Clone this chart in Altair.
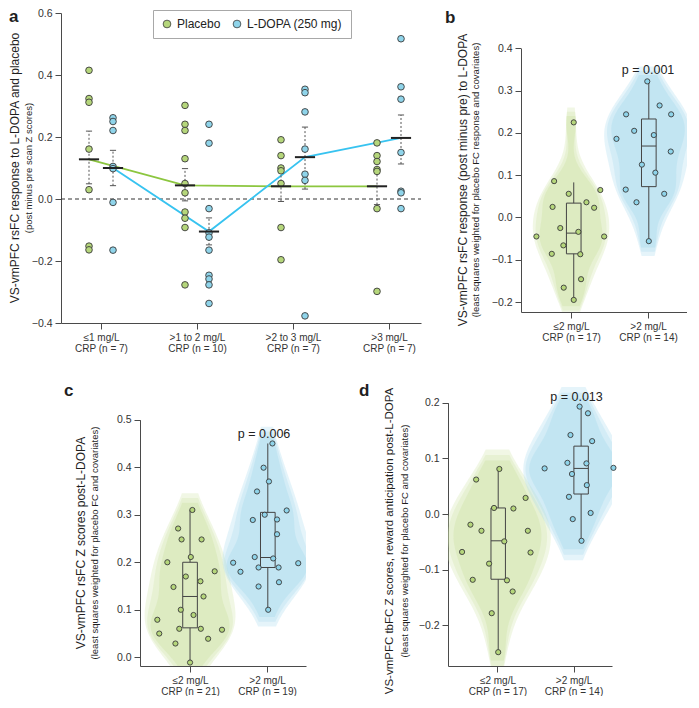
import altair as alt
import pandas as pd

FONT = "Liberation Sans"
GREEN_PT = "#b5d67b"
BLUE_PT = "#8fd4ea"
GREEN_LINE = "#8cc63f"
BLUE_LINE = "#37c3f0"
GREEN_VIO = "#cfe3a8"
BLUE_VIO = "#aadcee"
EDGE = "#3a3a3a"
AXIS = "#4a4a4a"

# ---------------- Panel a data ----------------
conditions = ["Placebo", "L-DOPA (250 mg)"]
a_labels = ["≤1 mg/L|CRP (n = 7)", ">1 to 2 mg/L|CRP (n = 10)",
            ">2 to 3 mg/L|CRP (n = 7)", ">3 mg/L|CRP (n = 7)"]
a_placebo = [
    [0.415, 0.324, 0.312, 0.161, 0.03, -0.152, -0.164],
    [0.302, 0.241, 0.221, 0.13, 0.05, 0.02, -0.042, -0.062, -0.092, -0.277],
    [0.191, 0.14, 0.1, 0.091, 0.05, -0.092, -0.196],
    [0.181, 0.14, 0.121, 0.095, 0.089, -0.031, -0.298],
]
a_ldopa = [
    [0.262, 0.25, 0.221, 0.105, 0.098, -0.011, -0.165],
    [0.241, 0.18, -0.031, -0.109, -0.123, -0.165, -0.246, -0.258, -0.277, -0.337],
    [0.354, 0.343, 0.281, 0.161, 0.08, 0.06, -0.377],
    [0.517, 0.362, 0.322, 0.15, 0.025, 0.02, -0.031],
]
a_placebo_mean = [0.128, 0.044, 0.041, 0.041]
a_placebo_lo = [0.049, -0.006, -0.008, -0.018]
a_placebo_hi = [0.219, 0.098, 0.094, 0.093]
a_ldopa_mean = [0.100, -0.105, 0.135, 0.197]
a_ldopa_lo = [0.043, -0.148, 0.032, 0.113]
a_ldopa_hi = [0.157, -0.061, 0.232, 0.271]

# ---------------- Panel b data ----------------
b_labels = ["≤2 mg/L|CRP (n = 17)", ">2 mg/L|CRP (n = 14)"]
b_low = [0.225, 0.086, 0.056, 0.065, 0.025, 0.036, 0.023, -0.045, -0.045, -0.025,
         -0.034, -0.066, -0.086, -0.087, -0.146, -0.166, -0.195]
b_low_jit = [0.035, -0.22, -0.03, 0.38, -0.24, 0.2, 0.3, -0.45, 0.43, -0.14,
             0.095, -0.1, -0.25, 0.12, 0.13, -0.095, 0.035]
b_high = [0.322, 0.265, 0.244, 0.244, 0.205, 0.186, 0.195, 0.156, 0.125, 0.106,
          0.066, 0.056, 0.036, -0.056]
b_high_jit = [-0.01, 0.15, -0.285, 0.3, -0.18, -0.41, 0.075, 0.295, -0.08, 0.095,
              -0.29, 0.21, -0.15, 0.01]
# box stats: [whisker low, q1, median, q3, whisker high]
b_box = [[-0.195, -0.086, -0.037, 0.034, 0.083], [-0.056, 0.073, 0.169, 0.233, 0.322]]

# ---------------- Panel c data ----------------
c_labels = ["≤2 mg/L|CRP (n = 21)", ">2 mg/L|CRP (n = 19)"]
c_low = [0.31, 0.271, 0.248, 0.248, 0.2, 0.211, 0.181, 0.17, 0.16, 0.148, 0.128,
         0.1, 0.089, 0.079, 0.06, 0.06, 0.058, 0.05, 0.039, 0.029, -0.011]
c_low_jit = [0.03, -0.155, -0.11, 0.15, -0.295, 0.01, 0.32, -0.055, 0.135, -0.215, 0.175,
             -0.12, 0.045, -0.425, -0.14, 0.14, 0.415, -0.4, 0.235, -0.19, 0.0]
c_high = [0.45, 0.399, 0.37, 0.349, 0.309, 0.3, 0.289, 0.29, 0.259, 0.199, 0.198,
          0.211, 0.208, 0.18, 0.189, 0.189, 0.158, 0.149, 0.1]
c_high_jit = [0.07, -0.045, 0.025, -0.13, 0.255, -0.03, -0.185, 0.13, 0.13, -0.44, 0.405,
              -0.16, 0.08, -0.345, -0.11, 0.15, 0.155, -0.11, 0.015]
c_box = [[-0.011, 0.062, 0.128, 0.2, 0.31], [0.1, 0.189, 0.21, 0.305, 0.45]]

# ---------------- Panel d data ----------------
d_labels = ["≤2 mg/L|CRP (n = 17)", ">2 mg/L|CRP (n = 14)"]
d_low = [0.081, 0.062, 0.029, 0.011, 0.01, -0.019, -0.03, -0.03, -0.049, -0.068,
         -0.069, -0.089, -0.118, -0.119, -0.139, -0.178, -0.248]
d_low_jit = [0.025, -0.28, 0.37, -0.045, 0.21, -0.355, -0.21, 0.4, 0.09, -0.465,
             0.435, -0.11, -0.325, 0.125, 0.2, -0.075, 0.01]
d_high = [0.193, 0.181, 0.142, 0.131, 0.082, 0.083, 0.092, 0.091, 0.072, 0.052,
          0.031, 0.002, -0.009, -0.048]
d_high_jit = [0.08, 0.19, -0.04, 0.245, -0.38, 0.525, -0.08, 0.17, -0.02, 0.175,
              -0.06, 0.225, -0.01, 0.105]
d_box = [[-0.248, -0.117, -0.048, 0.011, 0.084], [-0.048, 0.036, 0.082, 0.122, 0.193]]


def label_expr(labels):
    cond = "".join(f"datum.value === {i} ? '{lab}' : " for i, lab in enumerate(labels))
    return f"split({cond}'', '|')"


def vtext(text, x, y, size, bold=False, angle=0, align="center", baseline="middle"):
    kw = dict(font=FONT, fontSize=size, color="#1f1f1f", align=align, baseline=baseline)
    if bold:
        kw["fontWeight"] = "bold"
    if angle:
        kw["angle"] = angle
    return alt.Chart(pd.DataFrame({"t": [text]})).mark_text(**kw).encode(
        x=alt.value(x), y=alt.value(y), text="t:N")


# ---------------- Panel a ----------------
A_W, A_H = 360, 310
A_XDOM = [-40 / 96, 320 / 96]
A_YDOM = [-0.4, 0.6]
A_OFF = [-0.125, 0.125]

A_XAXIS = alt.Axis(values=[0, 1, 2, 3], labelExpr=label_expr(a_labels), title=None,
                   tickSize=6, labelPadding=3, labelLineHeight=11.5, labelFontSize=10)
A_YAXIS = alt.Axis(values=[-0.4, -0.2, 0.0, 0.2, 0.4, 0.6], format=".1f", title=None,
                   tickSize=6, labelPadding=3)


def ax(field):
    return alt.X(field, type="quantitative",
                 scale=alt.Scale(domain=A_XDOM, nice=False, zero=False), axis=A_XAXIS)


def ay(field):
    return alt.Y(field, type="quantitative",
                 scale=alt.Scale(domain=A_YDOM, nice=False, zero=False), axis=A_YAXIS)


pts = []
for ci, groups in enumerate([a_placebo, a_ldopa]):
    for gi, vals in enumerate(groups):
        for v in vals:
            pts.append(dict(x=gi + A_OFF[ci], y=v, cond=conditions[ci]))
a_pts = pd.DataFrame(pts)

summ = []
for ci, (ms, los, his) in enumerate([(a_placebo_mean, a_placebo_lo, a_placebo_hi),
                                     (a_ldopa_mean, a_ldopa_lo, a_ldopa_hi)]):
    for gi in range(4):
        x = gi + A_OFF[ci]
        summ.append(dict(cond=conditions[ci], x=x, mean=ms[gi], lo=los[gi], hi=his[gi],
                         cl=x - 0.032, cr=x + 0.032, bl=x - 0.105, br=x + 0.105))
a_sum = pd.DataFrame(summ)

a_zero = alt.Chart(pd.DataFrame({"z": [0.0], "x0": [A_XDOM[0]], "x1": [A_XDOM[1]]})).mark_rule(
    strokeDash=[4, 3], color="#333", strokeWidth=1).encode(
    x=ax("x0:Q"), x2="x1:Q", y=ay("z:Q"))
a_line_layers = []
for cond, col in zip(conditions, [GREEN_LINE, BLUE_LINE]):
    a_line_layers.append(
        alt.Chart(a_sum[a_sum["cond"] == cond]).mark_line(strokeWidth=1.8, color=col).encode(
            x=ax("x:Q"), y=ay("mean:Q"), order="x:Q"))
a_points = alt.Chart(a_pts).mark_circle(size=44, opacity=1, stroke=EDGE, strokeWidth=0.9).encode(
    x=ax("x:Q"), y=ay("y:Q"),
    fill=alt.Fill("cond:N", scale=alt.Scale(domain=conditions, range=[GREEN_PT, BLUE_PT]),
                  legend=alt.Legend(title=None, orient="none", legendX=92, legendY=-3,
                                    direction="horizontal", strokeColor="#a8a8a8",
                                    fillColor="white", padding=8, labelFont=FONT,
                                    labelFontSize=12, labelColor="#222", symbolSize=60,
                                    symbolType="circle", symbolStrokeColor=EDGE,
                                    symbolStrokeWidth=0.8, columnPadding=10, labelOffset=4)))
a_err = alt.Chart(a_sum).mark_rule(strokeDash=[2, 2], color="#555", strokeWidth=1).encode(
    x=ax("x:Q"), y=ay("lo:Q"), y2="hi:Q")
a_cap_lo = alt.Chart(a_sum).mark_rule(color="#555", strokeWidth=1).encode(
    x=ax("cl:Q"), x2="cr:Q", y=ay("lo:Q"))
a_cap_hi = alt.Chart(a_sum).mark_rule(color="#555", strokeWidth=1).encode(
    x=ax("cl:Q"), x2="cr:Q", y=ay("hi:Q"))
a_bar = alt.Chart(a_sum).mark_rule(color="#222", strokeWidth=2).encode(
    x=ax("bl:Q"), x2="br:Q", y=ay("mean:Q"))

panel_a = alt.layer(
    a_zero, *a_line_layers, a_err, a_cap_lo, a_cap_hi, a_points, a_bar,
    vtext("VS-vmPFC rsFC response to L-DOPA and placebo", -46, A_H / 2, 12, angle=270),
    vtext("(post minus pre scan Z scores)", -32, A_H / 2, 9.5, angle=270),
    vtext("a", -52, 9, 17, bold=True, align="left", baseline="alphabetic"),
).properties(width=A_W, height=A_H)


# ---------------- Panels b, c, d ----------------
V_XDOM = [-0.65, 1.506]


def violin_panel(low, low_jit, high, high_jit, box, box_off, ydom, yrng, yvals, height,
                 labels, title, subtitle, title_x, title_y, title_size, sub_x, pval, pval_y,
                 pval_dx, letter, letter_x, letter_y, bw, ks, width=166):
    xaxis = alt.Axis(values=[0, 1], labelExpr=label_expr(labels), title=None, tickSize=6,
                     labelPadding=3, labelLineHeight=11, labelFontSize=10)
    yaxis = alt.Axis(values=yvals, format=".1f", title=None, tickSize=6, labelPadding=3)

    def vx(field):
        return alt.X(field, type="quantitative",
                     scale=alt.Scale(domain=V_XDOM, nice=False, zero=False), axis=xaxis)

    def vy(field):
        return alt.Y(field, type="quantitative",
                     scale=alt.Scale(domain=ydom, range=yrng, nice=False, zero=False), axis=yaxis)

    layers = []
    groups = [(low, low_jit, GREEN_VIO, GREEN_PT, ks[0]), (high, high_jit, BLUE_VIO, BLUE_PT, ks[1])]
    # violins (soft edged, several translucent layers)
    for gi, (vals, jit, vcol, pcol, k) in enumerate(groups):
        vdf = pd.DataFrame({"y": vals})
        for scale, bmul, pad, op in [(1.12, 1.3, 0.035, 0.3), (1.0, 1.1, 0.025, 0.3),
                                     (0.85, 0.9, 0.015, 0.4)]:
            kk = k * scale
            ext = [min(vals) - pad, max(vals) + pad]
            layers.append(
                alt.Chart(vdf).transform_density(
                    "y", as_=["v", "dens"], bandwidth=bw * bmul, extent=ext, steps=120
                ).transform_calculate(
                    xl=f"{gi} - datum.dens * {kk}", xr=f"{gi} + datum.dens * {kk}"
                ).mark_area(orient="horizontal", fill=vcol, opacity=op, clip=True,
                            interpolate="monotone").encode(
                    y=vy("v:Q"), x=vx("xl:Q"), x2="xr:Q"))
    # boxes
    bdf = pd.DataFrame([dict(xc=gi + box_off[gi], xl=gi + box_off[gi] - 0.095,
                             xr=gi + box_off[gi] + 0.095, wl=b[0], q1=b[1], med=b[2],
                             q3=b[3], wh=b[4]) for gi, b in enumerate(box)])
    layers.append(alt.Chart(bdf).mark_rule(color="#444", strokeWidth=1).encode(
        x=vx("xc:Q"), y=vy("wl:Q"), y2="q1:Q"))
    layers.append(alt.Chart(bdf).mark_rule(color="#444", strokeWidth=1).encode(
        x=vx("xc:Q"), y=vy("q3:Q"), y2="wh:Q"))
    layers.append(alt.Chart(bdf).mark_rect(fillOpacity=0, stroke="#444", strokeWidth=1).encode(
        x=vx("xl:Q"), x2="xr:Q", y=vy("q1:Q"), y2="q3:Q"))
    layers.append(alt.Chart(bdf).mark_rule(color="#444", strokeWidth=1).encode(
        x=vx("xl:Q"), x2="xr:Q", y=vy("med:Q")))
    # points
    for gi, (vals, jit, vcol, pcol, k) in enumerate(groups):
        pdf = pd.DataFrame({"x": [gi + j for j in jit], "y": vals})
        layers.append(alt.Chart(pdf).mark_circle(size=27, opacity=1, fill=pcol, stroke=EDGE,
                                                 strokeWidth=0.9).encode(
            x=vx("x:Q"), y=vy("y:Q")))
    # p value
    layers.append(alt.Chart(pd.DataFrame({"x": [1.0], "y": [pval_y], "t": [pval]})).mark_text(
        font=FONT, fontSize=12.5, color="#222", baseline="middle", dx=pval_dx).encode(
        x=vx("x:Q"), y=vy("y:Q"), text="t:N"))
    layers.append(vtext(title, title_x, title_y, title_size, angle=270))
    layers.append(vtext(subtitle, sub_x, title_y, 9.5, angle=270))
    layers.append(vtext(letter, letter_x, letter_y, 17, bold=True, align="left",
                        baseline="alphabetic"))
    return alt.layer(*layers).properties(width=width, height=height)


panel_b = violin_panel(
    b_low, b_low_jit, b_high, b_high_jit, b_box, [0.035, 0.01],
    ydom=[-0.2236, 0.4], yrng=[299, 35.4], yvals=[-0.2, -0.1, 0.0, 0.1, 0.2, 0.3, 0.4], height=299,
    labels=b_labels, title="VS-vmPFC rsFC response (post minus pre) to L-DOPA",
    subtitle="(least squares weighted for placebo FC response and covariates)",
    title_x=-58, title_y=167, title_size=12, sub_x=-45, pval="p = 0.001", pval_y=0.348,
    pval_dx=0, letter="b", letter_x=-76, letter_y=10, bw=0.045, ks=[0.125, 0.155])

panel_c = violin_panel(
    c_low, c_low_jit, c_high, c_high_jit, c_box, [0.0, 0.01],
    ydom=[-0.0183, 0.5], yrng=[282, 35.7], yvals=[0.0, 0.1, 0.2, 0.3, 0.4, 0.5], height=282,
    labels=c_labels, title="VS-vmPFC rsFC Z scores post-L-DOPA",
    subtitle="(least squares weighted for placebo FC and covariates)",
    title_x=-59, title_y=159, title_size=12, sub_x=-45, pval="p = 0.006", pval_y=0.47,
    pval_dx=-3, letter="c", letter_x=-76, letter_y=12, bw=0.045, ks=[0.15, 0.14])

panel_d = violin_panel(
    d_low, d_low_jit, d_high, d_high_jit, d_box, [0.01, 0.1],
    ydom=[-0.2728, 0.2], yrng=[282, 18.7], yvals=[-0.2, -0.1, 0.0, 0.1, 0.2], height=282,
    labels=d_labels, title="VS-vmPFC tbFC Z scores, reward anticipation post-L-DOPA",
    subtitle="(least squares weighted for placebo FC and covariates)",
    title_x=-58.5, title_y=157, title_size=11.5, sub_x=-43, pval="p = 0.013", pval_y=0.21,
    pval_dx=3, letter="d", letter_x=-89, letter_y=12, bw=0.04, ks=[0.155, 0.128], width=164)


def spacer(w, h):
    return alt.Chart(pd.DataFrame({"v": [0]})).mark_point(opacity=0).encode(
        x=alt.value(0), y=alt.value(0)).properties(width=w, height=h)


row1 = alt.hconcat(panel_a, panel_b, spacing=23)
row2 = alt.hconcat(spacer(1, 282), panel_c, spacer(50, 282), panel_d, spacing=0)

chart = alt.vconcat(row1, row2, spacing=27).properties(
    padding=0
).configure_view(stroke=None).configure_axis(
    labelFont=FONT, titleFont=FONT, labelColor="#333", titleColor="#222",
    domainColor=AXIS, tickColor=AXIS, grid=False, labelFontSize=10.5
)

chart.save("out.html", embed_options={"renderer": "svg", "actions": False})
